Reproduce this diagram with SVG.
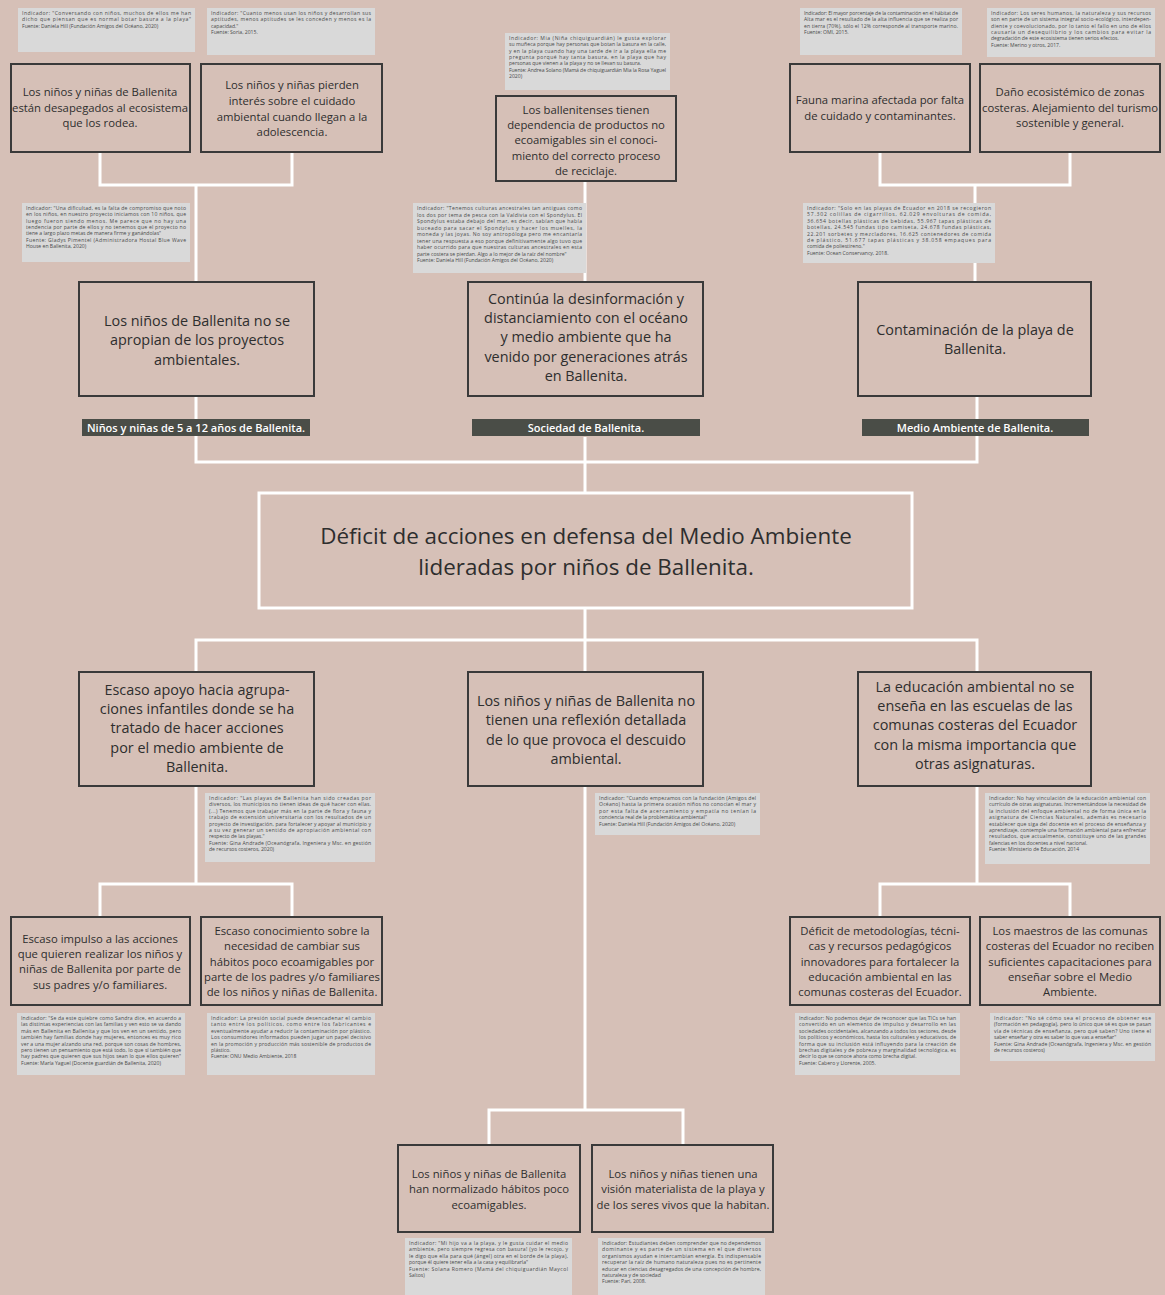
<svg xmlns="http://www.w3.org/2000/svg" width="1165" height="1295" viewBox="0 0 1165 1295">
<style>
.bg{fill:#d6c0b7}
.box{fill:#d6c0b7;stroke:#3a3a3a;stroke-width:2}
.center{fill:#d6c0b7;stroke:#ffffff;stroke-width:3}
.lbl{fill:#4a4d47}
.lt{font-family:"Open Sans","Noto Sans",sans-serif;font-size:11px;font-weight:600;fill:#ffffff;text-anchor:middle}
.t{font-family:"Open Sans","Noto Sans",sans-serif;font-size:11.3px;fill:#2e2e2e;text-anchor:middle}
.tb{font-family:"Open Sans","Noto Sans",sans-serif;font-size:14.4px;fill:#2e2e2e;text-anchor:middle}
.tc{font-family:"Open Sans","Noto Sans",sans-serif;font-size:22.4px;fill:#2e2e2e;text-anchor:middle}
.note{fill:#d9d9d9}
.n{font-family:"Open Sans","Noto Sans",sans-serif;font-size:5.1px;fill:#4a4a4a}
.con{fill:none;stroke:#ffffff;stroke-width:3}
</style>
<rect class="bg" x="0" y="0" width="1165" height="1295"/>

<g id="connectors">
<path class="con" d="M100,152V185H292V152M196,185V282"/>
<path class="con" d="M585,181V282"/>
<path class="con" d="M880,152V185H1070V152M975,185V282"/>
<path class="con" d="M196,396V462H977V396M585,437V493"/>
<path class="con" d="M585,608V640M196,672V640H977V672M585,640V672"/>
<path class="con" d="M196,786V884M100,917V884H292V917"/>
<path class="con" d="M977,786V884M880,917V884H1070V917"/>
<path class="con" d="M585,786V1110M489,1145V1110H683V1145"/>
</g>

<g id="note1"><rect class="note" x="18" y="8" width="177" height="44"/>
<text class="n" lengthAdjust="spacing"><tspan x="22" y="15" textLength="169">Indicador: "Conversando con niños, muchos de ellos me han</tspan><tspan x="22" y="21.3" textLength="169">dicho que piensan que es normal botar basura a la playa"</tspan><tspan x="22" y="27.6">Fuente: Daniela Hill (Fundación Amigos del Océano, 2020)</tspan></text></g>
<g id="note2"><rect class="note" x="207" y="8" width="168" height="47"/>
<text class="n" lengthAdjust="spacing"><tspan x="211" y="15" textLength="160">Indicador: "Cuanto menos usan los niños y desarrollan sus</tspan><tspan x="211" y="21.3" textLength="160">aptitudes, menos aptitudes se les conceden y menos es la</tspan><tspan x="211" y="27.6">capacidad."</tspan><tspan x="211" y="33.9">Fuente: Soria, 2015.</tspan></text></g>
<g id="note3"><rect class="note" x="505" y="33" width="165" height="57"/>
<text class="n" lengthAdjust="spacing"><tspan x="509" y="40" textLength="157">Indicador: Mia (Niña chiquiguardián) le gusta explorar</tspan><tspan x="509" y="46.3" textLength="157">su muñeca porque hay personas que botan la basura en la calle,</tspan><tspan x="509" y="52.6" textLength="157">y en la playa cuando hay una tarde de ir a la playa ella me</tspan><tspan x="509" y="58.9" textLength="157">pregunta porqué hay tanta basura, en la playa que hay</tspan><tspan x="509" y="65.2">personas que vienen a la playa y no se llevan su basura.</tspan><tspan x="509" y="71.5" textLength="157">Fuente: Andrea Solano (Mamá de chiquiguardián Mia la Rosa Yaguel</tspan><tspan x="509" y="77.8">2020)</tspan></text></g>
<g id="note4"><rect class="note" x="800" y="8" width="162" height="47"/>
<text class="n" lengthAdjust="spacing"><tspan x="804" y="15" textLength="154">Indicador: El mayor porcentaje de la contaminación en el hábitat de</tspan><tspan x="804" y="21.3" textLength="154">Alta mar es el resultado de la alta influencia que se realiza por</tspan><tspan x="804" y="27.6" textLength="154">en tierra (70%), sólo el 12% corresponde al transporte marino.</tspan><tspan x="804" y="33.9">Fuente: OMI, 2015.</tspan></text></g>
<g id="note5"><rect class="note" x="987" y="8" width="168" height="49"/>
<text class="n" lengthAdjust="spacing"><tspan x="991" y="15" textLength="160">Indicador: Los seres humanos, la naturaleza y sus recursos</tspan><tspan x="991" y="21.3" textLength="160">son en parte de un sistema integral socio-ecológico, interdepen-</tspan><tspan x="991" y="27.6" textLength="160">diente y coevolucionado, por lo tanto el fallo en uno de ellos</tspan><tspan x="991" y="33.9" textLength="160">causaría un desequilibrio y los cambios para evitar la</tspan><tspan x="991" y="40.2">degradación de este ecosistema tienen serios efectos.</tspan><tspan x="991" y="46.5">Fuente: Merino y otros, 2017.</tspan></text></g>

<g id="n_a1"><rect class="box" x="11" y="64" width="179" height="88"/>
<text class="t" x="100" y="96"><tspan x="100">Los niños y niñas de Ballenita</tspan><tspan x="100" dy="15.5">están desapegados al ecosistema</tspan><tspan x="100" dy="15.5">que los rodea.</tspan></text></g>
<g id="n_a2"><rect class="box" x="201" y="64" width="181" height="88"/>
<text class="t" x="292" y="89"><tspan x="292">Los niños y niñas pierden</tspan><tspan x="292" dy="15.8">interés sobre el cuidado</tspan><tspan x="292" dy="15.8">ambiental cuando llegan a la</tspan><tspan x="292" dy="15.8">adolescencia.</tspan></text></g>
<g id="n_c1"><rect class="box" x="496" y="96" width="180" height="85"/>
<text class="t" x="586" y="114"><tspan x="586">Los ballenitenses tienen</tspan><tspan x="586" dy="15.2">dependencia de productos no</tspan><tspan x="586" dy="15.2">ecoamigables sin el conoci-</tspan><tspan x="586" dy="15.2">miento del correcto proceso</tspan><tspan x="586" dy="15.2">de reciclaje.</tspan></text></g>
<g id="n_d1"><rect class="box" x="790" y="64" width="180" height="88"/>
<text class="t" x="880" y="104"><tspan x="880">Fauna marina afectada por falta</tspan><tspan x="880" dy="15.5">de cuidado y contaminantes.</tspan></text></g>
<g id="n_d2"><rect class="box" x="980" y="64" width="180" height="88"/>
<text class="t" x="1070" y="96"><tspan x="1070">Daño ecosistémico de zonas</tspan><tspan x="1070" dy="15.5">costeras. Alejamiento del turismo</tspan><tspan x="1070" dy="15.5">sostenible y general.</tspan></text></g>

<g id="note6"><rect class="note" x="22" y="203" width="168" height="59"/>
<text class="n" lengthAdjust="spacing"><tspan x="26" y="210" textLength="160">Indicador: "Una dificultad, es la falta de compromiso que noto</tspan><tspan x="26" y="216.3" textLength="160">en los niños, en nuestro proyecto iniciamos con 10 niños, que</tspan><tspan x="26" y="222.6" textLength="160">luego fueron siendo menos. Me parece que no hay una</tspan><tspan x="26" y="228.9" textLength="160">tendencia por parte de ellos y no tenemos que el proyecto no</tspan><tspan x="26" y="235.2">tiene a largo plazo metas de manera firme y ganándolas"</tspan><tspan x="26" y="241.5" textLength="160">Fuente: Gladys Pimentel (Administradora Hostal Blue Wave</tspan><tspan x="26" y="247.8">House en Ballenita, 2020)</tspan></text></g>
<g id="note7"><rect class="note" x="413" y="203" width="173" height="70"/>
<text class="n" lengthAdjust="spacing"><tspan x="417" y="210" textLength="165">Indicador: "Tenemos culturas ancestrales tan antiguas como</tspan><tspan x="417" y="216.5" textLength="165">los dos por tema de pesca con la Valdivia con el Spondylus. El</tspan><tspan x="417" y="223" textLength="165">Spondylus estaba debajo del mar, es decir, sabían que había</tspan><tspan x="417" y="229.5" textLength="165">buceado para sacar el Spondylus y hacer los muelles, la</tspan><tspan x="417" y="236" textLength="165">moneda y las joyas. No soy antropóloga pero me encantaría</tspan><tspan x="417" y="242.5" textLength="165">tener una respuesta a eso porque definitivamente algo tuvo que</tspan><tspan x="417" y="249" textLength="165">haber ocurrido para que nuestras culturas ancestrales en esta</tspan><tspan x="417" y="255.5">parte costera se pierdan. Algo a lo mejor de la raíz del nombre"</tspan><tspan x="417" y="262">Fuente: Daniela Hill (Fundación Amigos del Océano, 2020)</tspan></text></g>
<g id="note8"><rect class="note" x="803" y="203" width="192" height="60"/>
<text class="n" lengthAdjust="spacing"><tspan x="807" y="210" textLength="184">Indicador: "Solo en las playas de Ecuador en 2018 se recogieron</tspan><tspan x="807" y="216.4" textLength="184">57.302 colillas de cigarrillos, 62.029 envolturas de comida,</tspan><tspan x="807" y="222.8" textLength="184">36.654 botellas plásticas de bebidas, 55.967 tapas plásticas de</tspan><tspan x="807" y="229.2" textLength="184">botellas, 24.545 fundas tipo camiseta, 24.678 fundas plásticas,</tspan><tspan x="807" y="235.6" textLength="184">22.201 sorbetes y mezcladores, 16.625 contenedores de comida</tspan><tspan x="807" y="242" textLength="184">de plástico, 51.677 tapas plásticas y 38.058 empaques para</tspan><tspan x="807" y="248.4">comida de poliestireno."</tspan><tspan x="807" y="254.8">Fuente: Ocean Conservancy, 2018.</tspan></text></g>

<g id="n_b1"><rect class="box" x="79" y="282" width="235" height="114"/>
<text class="tb" x="197" y="326"><tspan x="197">Los niños de Ballenita no se</tspan><tspan x="197" dy="19.3">apropian de los proyectos</tspan><tspan x="197" dy="19.3">ambientales.</tspan></text></g>
<g id="n_c2"><rect class="box" x="468" y="282" width="235" height="114"/>
<text class="tb" x="586" y="304"><tspan x="586">Continúa la desinformación y</tspan><tspan x="586" dy="19.2">distanciamiento con el océano</tspan><tspan x="586" dy="19.2">y medio ambiente que ha</tspan><tspan x="586" dy="19.2">venido por generaciones atrás</tspan><tspan x="586" dy="19.2">en Ballenita.</tspan></text></g>
<g id="n_d3"><rect class="box" x="858" y="282" width="233" height="114"/>
<text class="tb" x="975" y="335"><tspan x="975">Contaminación de la playa de</tspan><tspan x="975" dy="19.3">Ballenita.</tspan></text></g>

<g id="lbl1"><rect class="lbl" x="82" y="419" width="228" height="17"/><text class="lt" x="196" y="431.5">Niños y niñas de 5 a 12 años de Ballenita.</text></g>
<g id="lbl2"><rect class="lbl" x="472" y="419" width="228" height="17"/><text class="lt" x="586" y="431.5">Sociedad de Ballenita.</text></g>
<g id="lbl3"><rect class="lbl" x="862" y="419" width="227" height="17"/><text class="lt" x="975" y="431.5">Medio Ambiente de Ballenita.</text></g>

<g id="n_center"><rect class="center" x="259" y="493" width="653" height="115"/>
<text class="tc" x="586" y="544"><tspan x="586">Déficit de acciones en defensa del Medio Ambiente</tspan><tspan x="586" dy="31">lideradas por niños de Ballenita.</tspan></text></g>

<g id="n_e1"><rect class="box" x="79" y="672" width="235" height="114"/>
<text class="tb" x="197" y="695"><tspan x="197">Escaso apoyo hacia agrupa-</tspan><tspan x="197" dy="19.2">ciones infantiles donde se ha</tspan><tspan x="197" dy="19.2">tratado de hacer acciones</tspan><tspan x="197" dy="19.2">por el medio ambiente de</tspan><tspan x="197" dy="19.2">Ballenita.</tspan></text></g>
<g id="n_e2"><rect class="box" x="468" y="672" width="235" height="114"/>
<text class="tb" x="586" y="706"><tspan x="586">Los niños y niñas de Ballenita no</tspan><tspan x="586" dy="19.3">tienen una reflexión detallada</tspan><tspan x="586" dy="19.3">de lo que provoca el descuido</tspan><tspan x="586" dy="19.3">ambiental.</tspan></text></g>
<g id="n_e3"><rect class="box" x="858" y="672" width="233" height="114"/>
<text class="tb" x="975" y="692"><tspan x="975">La educación ambiental no se</tspan><tspan x="975" dy="19.2">enseña en las escuelas de las</tspan><tspan x="975" dy="19.2">comunas costeras del Ecuador</tspan><tspan x="975" dy="19.2">con la misma importancia que</tspan><tspan x="975" dy="19.2">otras asignaturas.</tspan></text></g>

<g id="note9"><rect class="note" x="205" y="793" width="170" height="69"/>
<text class="n" lengthAdjust="spacing"><tspan x="209" y="800" textLength="162">Indicador: "Las playas de Ballenita han sido creadas por</tspan><tspan x="209" y="806.4" textLength="162">diversos, los municipios no tienen ideas de qué hacer con ellas.</tspan><tspan x="209" y="812.8" textLength="162">(...) Tenemos que trabajar más en la parte de flora y fauna y</tspan><tspan x="209" y="819.2" textLength="162">trabajo de extensión universitaria con los resultados de un</tspan><tspan x="209" y="825.6" textLength="162">proyecto de investigación, para fortalecer y apoyar al municipio y</tspan><tspan x="209" y="832" textLength="162">a su vez generar un sentido de apropiación ambiental con</tspan><tspan x="209" y="838.4">respecto de las playas."</tspan><tspan x="209" y="844.8" textLength="162">Fuente: Gina Andrade (Oceanógrafa, Ingeniera y Msc. en gestión</tspan><tspan x="209" y="851.2">de recursos costeros, 2020)</tspan></text></g>
<g id="note10"><rect class="note" x="595" y="793" width="165" height="42"/>
<text class="n" lengthAdjust="spacing"><tspan x="599" y="800" textLength="157">Indicador: "Cuando empezamos con la fundación (Amigos del</tspan><tspan x="599" y="806.4" textLength="157">Océano) hasta la primera ocasión niños no conocían el mar y</tspan><tspan x="599" y="812.8" textLength="157">por esta falta de acercamiento y empatía no tenían la</tspan><tspan x="599" y="819.2">conciencia real de la problemática ambiental"</tspan><tspan x="599" y="825.6">Fuente: Daniela Hill (Fundación Amigos del Océano, 2020)</tspan></text></g>
<g id="note11"><rect class="note" x="985" y="793" width="165" height="71"/>
<text class="n" lengthAdjust="spacing"><tspan x="989" y="800" textLength="157">Indicador: No hay vinculación de la educación ambiental con</tspan><tspan x="989" y="806.4" textLength="157">currículo de otras asignaturas. Incrementándose la necesidad de</tspan><tspan x="989" y="812.8" textLength="157">la inclusión del enfoque ambiental no de forma única en la</tspan><tspan x="989" y="819.2" textLength="157">asignatura de Ciencias Naturales, además es necesario</tspan><tspan x="989" y="825.6" textLength="157">establecer que siga del docente en el proceso de enseñanza y</tspan><tspan x="989" y="832" textLength="157">aprendizaje, contemple una formación ambiental para enfrentar</tspan><tspan x="989" y="838.4" textLength="157">resultados, que actualmente, constituye uno de las grandes</tspan><tspan x="989" y="844.8">falencias en los docentes a nivel nacional.</tspan><tspan x="989" y="851.2">Fuente: Ministerio de Educación, 2014</tspan></text></g>

<g id="n_f1"><rect class="box" x="11" y="917" width="179" height="88"/>
<text class="t" x="100" y="943"><tspan x="100">Escaso impulso a las acciones</tspan><tspan x="100" dy="15.2">que quieren realizar los niños y</tspan><tspan x="100" dy="15.2">niñas de Ballenita por parte de</tspan><tspan x="100" dy="15.2">sus padres y/o familiares.</tspan></text></g>
<g id="n_f2"><rect class="box" x="201" y="917" width="181" height="88"/>
<text class="t" x="292" y="935"><tspan x="292">Escaso conocimiento sobre la</tspan><tspan x="292" dy="15.3">necesidad de cambiar sus</tspan><tspan x="292" dy="15.3">hábitos poco ecoamigables por</tspan><tspan x="292" dy="15.3">parte de los padres y/o familiares</tspan><tspan x="292" dy="15.3">de los niños y niñas de Ballenita.</tspan></text></g>
<g id="n_f3"><rect class="box" x="790" y="917" width="180" height="88"/>
<text class="t" x="880" y="935"><tspan x="880">Déficit de metodologías, técni-</tspan><tspan x="880" dy="15.3">cas y recursos pedagógicos</tspan><tspan x="880" dy="15.3">innovadores para fortalecer la</tspan><tspan x="880" dy="15.3">educación ambiental en las</tspan><tspan x="880" dy="15.3">comunas costeras del Ecuador.</tspan></text></g>
<g id="n_f4"><rect class="box" x="980" y="917" width="180" height="88"/>
<text class="t" x="1070" y="935"><tspan x="1070">Los maestros de las comunas</tspan><tspan x="1070" dy="15.3">costeras del Ecuador no reciben</tspan><tspan x="1070" dy="15.3">suficientes capacitaciones para</tspan><tspan x="1070" dy="15.3">enseñar sobre el Medio</tspan><tspan x="1070" dy="15.3">Ambiente.</tspan></text></g>

<g id="note12"><rect class="note" x="17" y="1013" width="168" height="62"/>
<text class="n" lengthAdjust="spacing"><tspan x="21" y="1020" textLength="160">Indicador: "Se da este quiebre como Sandra dice, en acuerdo a</tspan><tspan x="21" y="1026.4" textLength="160">las distintas experiencias con las familias y ven esto se va dando</tspan><tspan x="21" y="1032.8" textLength="160">más en Ballenita en Ballenita y que los ven en un sentido, pero</tspan><tspan x="21" y="1039.2" textLength="160">también hay familias donde hay mujeres, entonces es muy rico</tspan><tspan x="21" y="1045.6" textLength="160">ver a una mujer alzando una red, porque son cosas de hombres,</tspan><tspan x="21" y="1052" textLength="160">pero tienen un pensamiento que está todo, lo que sí también que</tspan><tspan x="21" y="1058.4" textLength="160">hay padres que quieren que sus hijos sean lo que ellos quieren"</tspan><tspan x="21" y="1064.8">Fuente: María Yaguel (Docente guardián de Ballenita, 2020)</tspan></text></g>
<g id="note13"><rect class="note" x="207" y="1013" width="168" height="62"/>
<text class="n" lengthAdjust="spacing"><tspan x="211" y="1020" textLength="160">Indicador: La presión social puede desencadenar el cambio</tspan><tspan x="211" y="1026.4" textLength="160">tanto entre los políticos, como entre los fabricantes e</tspan><tspan x="211" y="1032.8" textLength="160">eventualmente ayudar a reducir la contaminación por plástico.</tspan><tspan x="211" y="1039.2" textLength="160">Los consumidores informados pueden jugar un papel decisivo</tspan><tspan x="211" y="1045.6" textLength="160">en la promoción y producción más sostenible de productos de</tspan><tspan x="211" y="1052">plástico.</tspan><tspan x="211" y="1058.4">Fuente: ONU Medio Ambiente, 2018</tspan></text></g>
<g id="note14"><rect class="note" x="795" y="1013" width="165" height="62"/>
<text class="n" lengthAdjust="spacing"><tspan x="799" y="1020" textLength="157">Indicador: No podemos dejar de reconocer que las TICs se han</tspan><tspan x="799" y="1026.4" textLength="157">convertido en un elemento de impulso y desarrollo en las</tspan><tspan x="799" y="1032.8" textLength="157">sociedades occidentales, alcanzando a todos los sectores, desde</tspan><tspan x="799" y="1039.2" textLength="157">los políticos y económicos, hasta los culturales y educativos, de</tspan><tspan x="799" y="1045.6" textLength="157">forma que su inclusión está influyendo para la creación de</tspan><tspan x="799" y="1052" textLength="157">brechas digitales y de pobreza y marginalidad tecnológica, es</tspan><tspan x="799" y="1058.4">decir lo que se conoce ahora como brecha digital.</tspan><tspan x="799" y="1064.8">Fuente: Cabero y Llorente, 2005.</tspan></text></g>
<g id="note15"><rect class="note" x="990" y="1013" width="165" height="48"/>
<text class="n" lengthAdjust="spacing"><tspan x="994" y="1020" textLength="157">Indicador: "No sé cómo sea el proceso de obtener ese</tspan><tspan x="994" y="1026.4" textLength="157">(formación en pedagogía), pero lo único que sé es que se pasan</tspan><tspan x="994" y="1032.8" textLength="157">vía de técnicas de enseñanza, pero qué saben? Uno tiene el</tspan><tspan x="994" y="1039.2">saber enseñar y otra es saber lo que vas a enseñar"</tspan><tspan x="994" y="1045.6" textLength="157">Fuente: Gina Andrade (Oceanógrafa, Ingeniera y Msc. en gestión</tspan><tspan x="994" y="1052">de recursos costeros)</tspan></text></g>

<g id="n_g1"><rect class="box" x="398" y="1145" width="182" height="87"/>
<text class="t" x="489" y="1178"><tspan x="489">Los niños y niñas de Ballenita</tspan><tspan x="489" dy="15.3">han normalizado hábitos poco</tspan><tspan x="489" dy="15.3">ecoamigables.</tspan></text></g>
<g id="n_g2"><rect class="box" x="592" y="1145" width="181" height="87"/>
<text class="t" x="683" y="1178"><tspan x="683">Los niños y niñas tienen una</tspan><tspan x="683" dy="15.3">visión materialista de la playa y</tspan><tspan x="683" dy="15.3">de los seres vivos que la habitan.</tspan></text></g>

<g id="note16"><rect class="note" x="405" y="1238" width="167" height="57"/>
<text class="n" lengthAdjust="spacing"><tspan x="409" y="1245" textLength="159">Indicador: "Mi hijo va a la playa, y le gusta cuidar el medio</tspan><tspan x="409" y="1251.4" textLength="159">ambiente, pero siempre regresa con basura! (yo le recojo, y</tspan><tspan x="409" y="1257.8" textLength="159">le digo que ella para qué (ángel) otra en el borde de la playa),</tspan><tspan x="409" y="1264.2">porque él quiere tener ella a la casa y equilibrarla"</tspan><tspan x="409" y="1270.6" textLength="159">Fuente: Solana Romero (Mamá del chiquiguardián Maycol</tspan><tspan x="409" y="1277">Saltos)</tspan></text></g>
<g id="note17"><rect class="note" x="598" y="1238" width="167" height="57"/>
<text class="n" lengthAdjust="spacing"><tspan x="602" y="1245" textLength="159">Indicador: Estudiantes deben comprender que no dependemos</tspan><tspan x="602" y="1251.4" textLength="159">dominante y es parte de un sistema en el que diversos</tspan><tspan x="602" y="1257.8" textLength="159">organismos ayudan e intercambian energía. Es indispensable</tspan><tspan x="602" y="1264.2" textLength="159">recuperar la raíz de humano naturaleza pues no es pertinente</tspan><tspan x="602" y="1270.6" textLength="159">educar en ciencias desagregados de una concepción de hombre,</tspan><tspan x="602" y="1277">naturaleza y de sociedad</tspan><tspan x="602" y="1283.4">Fuente: Pari, 2008.</tspan></text></g>
</svg>
